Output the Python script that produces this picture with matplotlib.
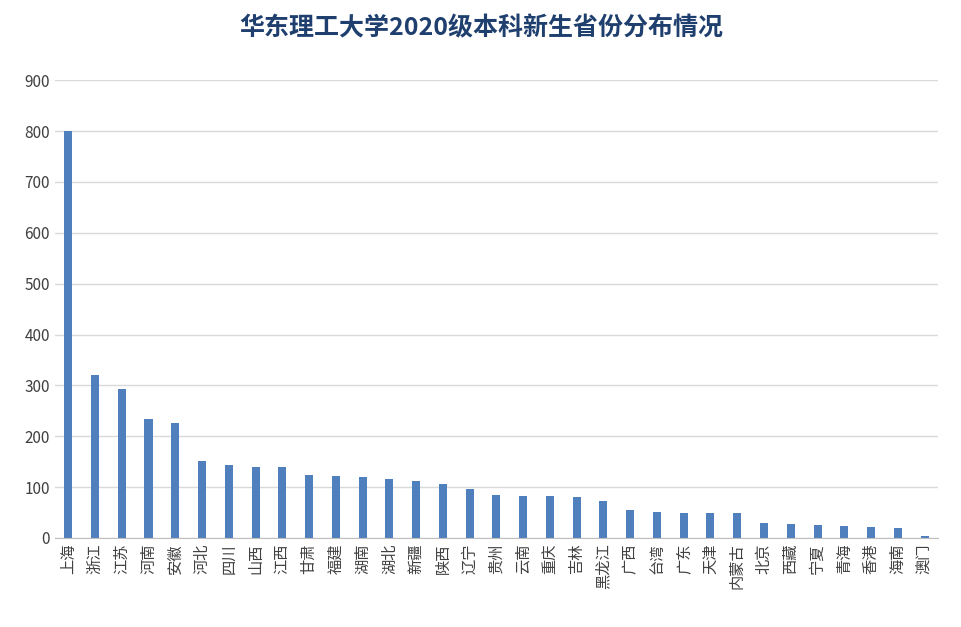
import matplotlib.pyplot as plt
import numpy as np

plt.rcParams['font.family'] = ['Noto Sans CJK SC', 'DejaVu Sans']

provinces = ['上海', '浙江', '江苏', '河南', '安徽', '河北', '四川', '山西', '江西', '甘肃',
             '福建', '湖南', '湖北', '新疆', '陕西', '辽宁', '贵州', '云南', '重庆', '吉林',
             '黑龙江', '广西', '台湾', '广东', '天津', '内蒙古', '北京', '西藏', '宁夏', '青海',
             '香港', '海南', '澳门']
counts = [800, 320, 293, 234, 226, 151, 143, 139, 139, 124,
          122, 120, 116, 112, 106, 96, 84, 82, 82, 80,
          73, 55, 51, 49, 49, 49, 29, 27, 25, 23,
          21, 19, 4]
y_ticks = [0, 100, 200, 300, 400, 500, 600, 700, 800, 900]

fig = plt.figure(figsize=(9.62, 6.27), dpi=100)
ax = fig.add_axes([0.057, 0.142, 0.918, 0.73])

x = np.arange(len(provinces))
ax.bar(x, counts, width=0.3, color='#4f7fbc', zorder=2)

ax.set_xlim(-0.5, len(provinces) - 0.5)
ax.set_ylim(0, 900)
ax.set_yticks(y_ticks)
ax.tick_params(axis='y', length=0, labelsize=11, colors='#404040')
ax.set_xticks(x)
ax.set_xticklabels(provinces, rotation=90, fontsize=11, color='#404040')
ax.tick_params(axis='x', length=0, pad=4)
ax.grid(axis='y', color='#d9d9d9', linewidth=1, zorder=0)
for s in ['top', 'right', 'left']:
    ax.spines[s].set_visible(False)
ax.spines['bottom'].set_color('#bfbfbf')

fig.suptitle('华东理工大学2020级本科新生省份分布情况', x=0.5, y=0.975,
             fontsize=18, fontweight='bold', color='#1f3f6e')

fig.savefig('out.png', dpi=100)
